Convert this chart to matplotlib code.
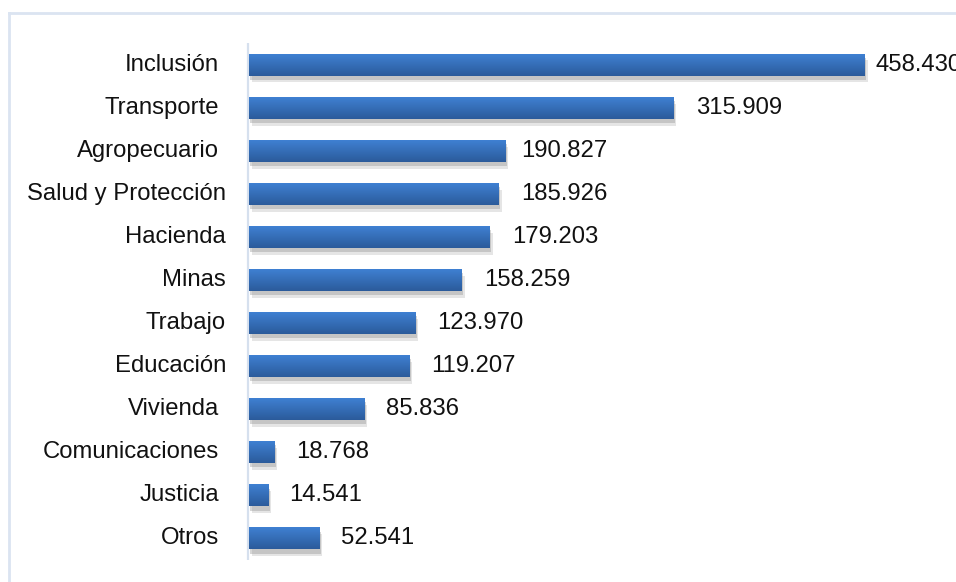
import numpy as np
import matplotlib
matplotlib.use("Agg")
import matplotlib.pyplot as plt
from matplotlib import patheffects as pe
from matplotlib.colors import LinearSegmentedColormap
from matplotlib.lines import Line2D

categories = ["Inclusión", "Transporte", "Agropecuario", "Salud y Protección",
              "Hacienda", "Minas", "Trabajo", "Educación", "Vivienda",
              "Comunicaciones", "Justicia", "Otros"]
values = [458.430, 315.909, 190.827, 185.926, 179.203, 158.259,
          123.970, 119.207, 85.836, 18.768, 14.541, 52.541]
value_labels = ["458.430", "315.909", "190.827", "185.926", "179.203", "158.259",
                "123.970", "119.207", "85.836", "18.768", "14.541", "52.541"]

# per-label spacing (pixels) for category names and value labels
cat_pad = [29, 29, 29, 22, 22, 22, 22, 22, 29, 29, 29, 29]
val_pad = [10, 22, 16, 22, 22, 22, 21, 22, 22, 22, 21, 21]

plt.rcParams["font.family"] = ["Liberation Sans", "DejaVu Sans"]
FS = 17.2
W, H = 956, 582
fig = plt.figure(figsize=(W / 100, H / 100), dpi=100)
fig.patch.set_facecolor("white")

left, right, top, bottom = 248, 956, 43, 560
ax = fig.add_axes([left / W, 1 - bottom / H, (right - left) / W, (bottom - top) / H])
xmax = (right - left) / ((865 - 249) / 458.430)
ax.axis("off")

# vertical category axis line
ax.plot([0, 0], [-0.5, len(categories) - 0.5], color="#d6e0ee", lw=1.6,
        solid_capstyle="butt", clip_on=False, zorder=1)

grad = LinearSegmentedColormap.from_list("bar", ["#3f80d2", "#2b5b9b"])
bar_h = 0.51
for i, (v, lab) in enumerate(zip(values, value_labels)):
    y0 = i - bar_h / 2
    rect = plt.Rectangle((0.8, y0), v, bar_h, facecolor="#3570bb",
                         edgecolor="none", zorder=2)
    rect.set_path_effects([
        pe.SimplePatchShadow(offset=(2, -5), shadow_rgbFace="#9a9a9a", alpha=0.25),
        pe.SimplePatchShadow(offset=(1, -3), shadow_rgbFace="#8a8a8a", alpha=0.35),
        pe.Normal()])
    ax.add_patch(rect)
    img = ax.imshow(np.linspace(0, 1, 64).reshape(-1, 1), cmap=grad,
                    aspect="auto", extent=(0.8, 0.8 + v, y0 + bar_h, y0),
                    zorder=3, interpolation="bilinear")
    img.set_clip_path(rect)
    ax.annotate(lab, xy=(0.8 + v, i), xytext=(val_pad[i], 0),
                textcoords="offset pixels", va="center", ha="left",
                fontsize=FS, color="#111111", zorder=4, annotation_clip=False)
    ax.annotate(categories[i], xy=(0, i), xytext=(-cat_pad[i], 0),
                textcoords="offset pixels", va="center", ha="right",
                fontsize=FS, color="#111111", annotation_clip=False)

ax.set_xlim(0, xmax)
ax.set_ylim(len(categories) - 0.5, -0.5)

# outer chart frame
fc = "#dbe4f1"
fig.add_artist(Line2D([9 / W, 9 / W], [0, 1 - 13 / H], transform=fig.transFigure,
                      color=fc, lw=2))
fig.add_artist(Line2D([9 / W, 955 / W], [1 - 13 / H, 1 - 13 / H],
                      transform=fig.transFigure, color=fc, lw=2))

fig.savefig("out.png", dpi=100, facecolor="white")
